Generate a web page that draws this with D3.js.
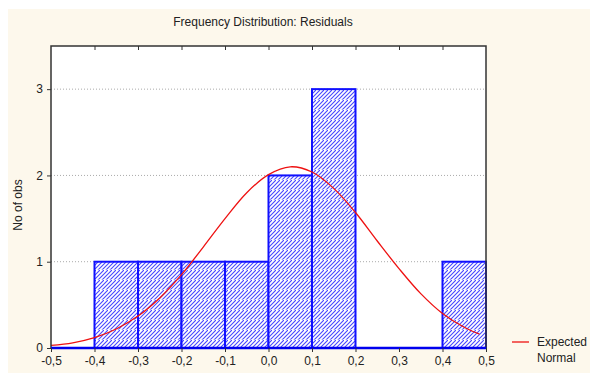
<!DOCTYPE html>
<html>
<head>
<meta charset="utf-8">
<script src="https://d3js.org/d3.v7.min.js"></script>
<style>
body { margin: 0; background: #fff; }
text { font-family: "Liberation Sans", Arial, sans-serif; fill: #222; }
</style>
</head>
<body>
<script>
// histogram bins (lower edge, upper edge, count)
var binStart = [-0.4, -0.3, -0.2, -0.1, 0.0, 0.1, 0.4];
var binEnd   = [-0.3, -0.2, -0.1,  0.0, 0.1, 0.2, 0.5];
var counts   = [1, 1, 1, 1, 2, 3, 1];

// expected normal curve
var curveX = [-0.5, -0.45, -0.4, -0.35, -0.3, -0.25, -0.2, -0.15, -0.1, -0.05, 0.0,
              0.05, 0.1, 0.15, 0.2, 0.25, 0.3, 0.35, 0.4, 0.45, 0.485];
var curveY = [0.03, 0.06, 0.12, 0.22, 0.37, 0.58, 0.85, 1.17, 1.5, 1.8, 2.01,
              2.1, 2.04, 1.85, 1.57, 1.24, 0.92, 0.63, 0.4, 0.24, 0.16];

var xTicks = [-0.5, -0.4, -0.3, -0.2, -0.1, 0.0, 0.1, 0.2, 0.3, 0.4, 0.5];
var yTicks = [0, 1, 2, 3];

var width = 590;
var height = 373;

var svg = d3.select("body")
    .append("svg")
    .attr("width", width)
    .attr("height", height);

svg.append("rect")
    .attr("x", 8).attr("y", 9)
    .attr("width", width - 8).attr("height", height - 9)
    .attr("fill", "#fdf8ec");

var pLeft = 51, pRight = 486, pTop = 46, pBottom = 348;

var x = d3.scaleLinear().domain([-0.5, 0.5]).range([pLeft, pRight]);
var y = d3.scaleLinear().domain([0, 3.5]).range([pBottom, pTop]);

// hatch pattern
var defs = svg.append("defs");
var pat = defs.append("pattern")
    .attr("id", "hatch")
    .attr("patternUnits", "userSpaceOnUse")
    .attr("width", 4).attr("height", 10);
pat.append("rect").attr("width", 4).attr("height", 10).attr("fill", "#fff");
pat.append("path")
    .attr("d", "M-1,5 L5,-1 M-1,9 L5,3 M-1,13 L5,7")
    .attr("stroke", "#4646ff")
    .attr("stroke-width", 1.2);
pat.append("line")
    .attr("x1", 0).attr("x2", 4).attr("y1", 9.5).attr("y2", 9.5)
    .attr("stroke", "#fff").attr("stroke-opacity", 0.4).attr("stroke-width", 1);

// plot area
svg.append("rect")
    .attr("x", pLeft).attr("y", pTop)
    .attr("width", pRight - pLeft).attr("height", pBottom - pTop)
    .attr("fill", "#fff");

// grid
svg.append("g")
  .selectAll("line")
  .data(yTicks.slice(1))
  .enter().append("line")
    .attr("x1", pLeft).attr("x2", pRight)
    .attr("y1", function(d) { return y(d); })
    .attr("y2", function(d) { return y(d); })
    .attr("stroke", "#aaa")
    .attr("stroke-dasharray", "1,2");

// bars
svg.append("g")
  .selectAll("rect")
  .data(counts)
  .enter().append("rect")
    .attr("x", function(d, i) { return x(binStart[i]); })
    .attr("y", function(d) { return y(d); })
    .attr("width", function(d, i) { return x(binEnd[i]) - x(binStart[i]); })
    .attr("height", function(d) { return y(0) - y(d); })
    .attr("fill", "url(#hatch)")
    .attr("stroke", "#1010ff")
    .attr("stroke-width", 2);

// expected normal
var line = d3.line()
    .x(function(d) { return x(d[0]); })
    .y(function(d) { return y(d[1]); })
    .curve(d3.curveCatmullRom);

svg.append("path")
    .datum(curveX.map(function(v, i) { return [v, curveY[i]]; }))
    .attr("d", line)
    .attr("fill", "none")
    .attr("stroke", "#ee1111")
    .attr("stroke-width", 1.3);

// frame
svg.append("rect")
    .attr("x", pLeft).attr("y", pTop)
    .attr("width", pRight - pLeft).attr("height", pBottom - pTop)
    .attr("fill", "none")
    .attr("stroke", "#333")
    .attr("stroke-width", 1.5);

// baseline in blue
svg.append("line")
    .attr("x1", pLeft).attr("x2", pRight)
    .attr("y1", pBottom).attr("y2", pBottom)
    .attr("stroke", "#0000ee")
    .attr("stroke-width", 2.5);

// axes
var xAxis = svg.append("g")
    .attr("transform", "translate(0," + pBottom + ")")
    .call(d3.axisBottom(x).tickValues(xTicks).tickSize(4)
        .tickFormat(function(d) { return d3.format(".1f")(d).replace(".", ",").replace("−", "-"); }));
xAxis.select(".domain").remove();
xAxis.selectAll("line").attr("stroke", "#333");
xAxis.selectAll("text").attr("dy", "0.85em").attr("font-size", 12).attr("fill", "#222");

var xTop = svg.append("g")
    .attr("transform", "translate(0," + pTop + ")")
    .call(d3.axisBottom(x).tickValues(xTicks.slice(1, -1)).tickSize(4).tickFormat(""));
xTop.select(".domain").remove();
xTop.selectAll("line").attr("stroke", "#333");

var yAxis = svg.append("g")
    .attr("transform", "translate(" + pLeft + ",0)")
    .call(d3.axisLeft(y).tickValues(yTicks).tickSize(4).tickFormat(d3.format("d")));
yAxis.select(".domain").remove();
yAxis.selectAll("line").attr("stroke", "#333");
yAxis.selectAll("text").attr("x", -8).attr("font-size", 12).attr("fill", "#222");

// title and labels
svg.append("text")
    .attr("x", 263).attr("y", 26)
    .attr("text-anchor", "middle")
    .attr("font-size", 12)
    .text("Frequency Distribution: Residuals");

svg.append("text")
    .attr("transform", "translate(22,205) rotate(-90)")
    .attr("text-anchor", "middle")
    .attr("font-size", 12)
    .text("No of obs");

// legend
svg.append("line")
    .attr("x1", 512).attr("x2", 529)
    .attr("y1", 342).attr("y2", 342)
    .attr("stroke", "#ee1111").attr("stroke-width", 1.3);
svg.append("text").attr("x", 537).attr("y", 346).attr("font-size", 12).text("Expected");
svg.append("text").attr("x", 537).attr("y", 362).attr("font-size", 12).text("Normal");
</script>
</body>
</html>
